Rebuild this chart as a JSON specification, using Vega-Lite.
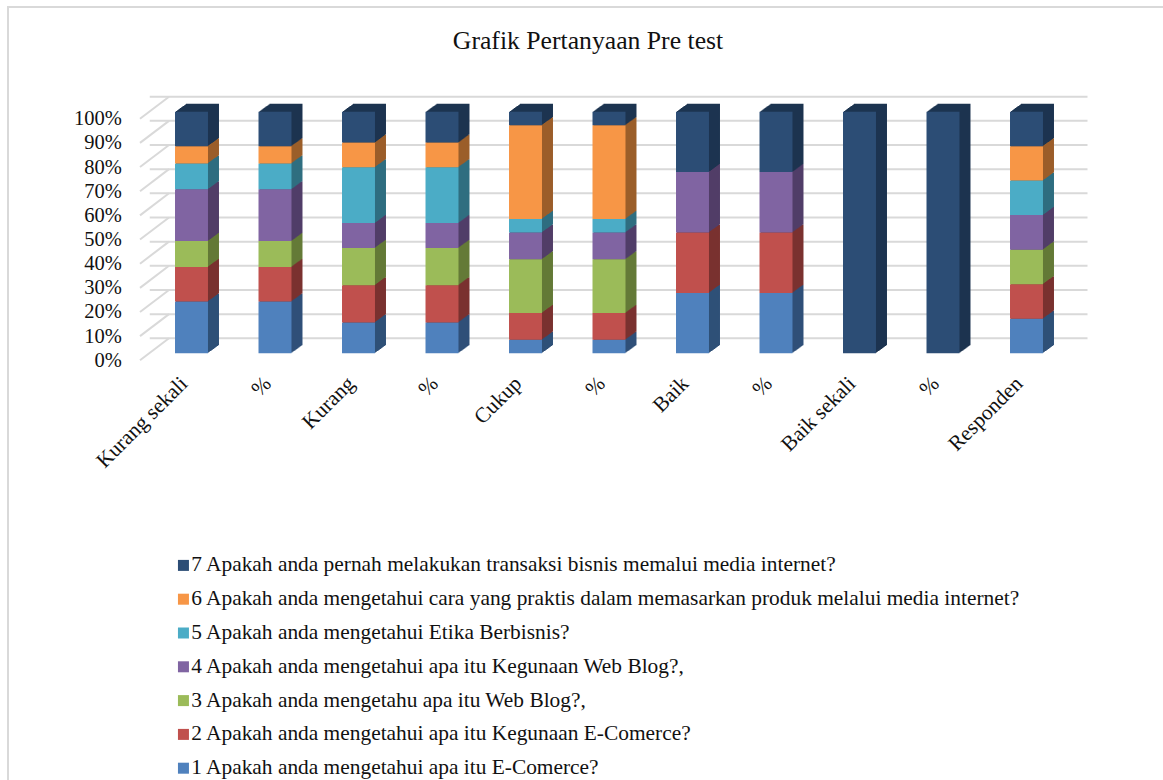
{"$schema":"https://vega.github.io/schema/vega-lite/v6.json","autosize":{"type":"none"},"width":918.5,"height":241.6,"padding":{"left":149.75,"top":111.7,"right":94.75,"bottom":426.7},"background":"white","title":{"text":"Grafik Pertanyaan Pre test","font":"Liberation Serif","fontSize":25.7,"fontWeight":"normal","color":"#111111","anchor":"middle","frame":"group","dx":-21,"offset":-52},"config":{"view":{"stroke":null},"axis":{"labelFont":"Liberation Serif","labelColor":"#111111"}},"datasets":{"ticks":[{"p":0},{"p":0.1},{"p":0.2},{"p":0.3},{"p":0.4},{"p":0.5},{"p":0.6},{"p":0.7},{"p":0.8},{"p":0.9},{"p":1}],"one":[{"p":1}],"rows":[
{"c":"Kurang sekali","s":"1","v":21.4},{"c":"Kurang sekali","s":"2","v":14.3},{"c":"Kurang sekali","s":"3","v":10.7},{"c":"Kurang sekali","s":"4","v":21.4},{"c":"Kurang sekali","s":"5","v":10.7},{"c":"Kurang sekali","s":"6","v":7.1},{"c":"Kurang sekali","s":"7","v":14.3},
{"c":"% Kurang sekali","s":"1","v":21.4},{"c":"% Kurang sekali","s":"2","v":14.3},{"c":"% Kurang sekali","s":"3","v":10.7},{"c":"% Kurang sekali","s":"4","v":21.4},{"c":"% Kurang sekali","s":"5","v":10.7},{"c":"% Kurang sekali","s":"6","v":7.1},{"c":"% Kurang sekali","s":"7","v":14.3},
{"c":"Kurang","s":"1","v":12.8},{"c":"Kurang","s":"2","v":15.4},{"c":"Kurang","s":"3","v":15.4},{"c":"Kurang","s":"4","v":10.3},{"c":"Kurang","s":"5","v":23.1},{"c":"Kurang","s":"6","v":10.2},{"c":"Kurang","s":"7","v":12.8},
{"c":"% Kurang","s":"1","v":12.8},{"c":"% Kurang","s":"2","v":15.4},{"c":"% Kurang","s":"3","v":15.4},{"c":"% Kurang","s":"4","v":10.3},{"c":"% Kurang","s":"5","v":23.1},{"c":"% Kurang","s":"6","v":10.2},{"c":"% Kurang","s":"7","v":12.8},
{"c":"Cukup","s":"1","v":5.6},{"c":"Cukup","s":"2","v":11.1},{"c":"Cukup","s":"3","v":22.2},{"c":"Cukup","s":"4","v":11.1},{"c":"Cukup","s":"5","v":5.6},{"c":"Cukup","s":"6","v":38.8},{"c":"Cukup","s":"7","v":5.6},
{"c":"% Cukup","s":"1","v":5.6},{"c":"% Cukup","s":"2","v":11.1},{"c":"% Cukup","s":"3","v":22.2},{"c":"% Cukup","s":"4","v":11.1},{"c":"% Cukup","s":"5","v":5.6},{"c":"% Cukup","s":"6","v":38.8},{"c":"% Cukup","s":"7","v":5.6},
{"c":"Baik","s":"1","v":25},{"c":"Baik","s":"2","v":25},{"c":"Baik","s":"3","v":0},{"c":"Baik","s":"4","v":25},{"c":"Baik","s":"5","v":0},{"c":"Baik","s":"6","v":0},{"c":"Baik","s":"7","v":25},
{"c":"% Baik","s":"1","v":25},{"c":"% Baik","s":"2","v":25},{"c":"% Baik","s":"3","v":0},{"c":"% Baik","s":"4","v":25},{"c":"% Baik","s":"5","v":0},{"c":"% Baik","s":"6","v":0},{"c":"% Baik","s":"7","v":25},
{"c":"Baik sekali","s":"1","v":0},{"c":"Baik sekali","s":"2","v":0},{"c":"Baik sekali","s":"3","v":0},{"c":"Baik sekali","s":"4","v":0},{"c":"Baik sekali","s":"5","v":0},{"c":"Baik sekali","s":"6","v":0},{"c":"Baik sekali","s":"7","v":100},
{"c":"% Baik sekali","s":"1","v":0},{"c":"% Baik sekali","s":"2","v":0},{"c":"% Baik sekali","s":"3","v":0},{"c":"% Baik sekali","s":"4","v":0},{"c":"% Baik sekali","s":"5","v":0},{"c":"% Baik sekali","s":"6","v":0},{"c":"% Baik sekali","s":"7","v":100},
{"c":"Responden","s":"1","v":14.3},{"c":"Responden","s":"2","v":14.3},{"c":"Responden","s":"3","v":14.3},{"c":"Responden","s":"4","v":14.3},{"c":"Responden","s":"5","v":14.3},{"c":"Responden","s":"6","v":14.2},{"c":"Responden","s":"7","v":14.3}
],"labels":[{"s":"1","n":"1 Apakah anda mengetahui apa itu E-Comerce?"},{"s":"2","n":"2 Apakah anda mengetahui apa itu Kegunaan E-Comerce?"},{"s":"3","n":"3 Apakah anda mengetahu apa itu Web Blog?,"},{"s":"4","n":"4 Apakah anda mengetahui apa itu Kegunaan Web Blog?,"},{"s":"5","n":"5 Apakah anda mengetahui Etika Berbisnis?"},{"s":"6","n":"6 Apakah anda mengetahui cara yang praktis dalam memasarkan produk melalui media internet?"},{"s":"7","n":"7 Apakah anda pernah melakukan transaksi bisnis memalui media internet?"}]},
"data":{"name":"rows"},
"transform":[{"lookup":"s","from":{"data":{"name":"labels"},"key":"s","fields":["n"]}}],
"encoding":{"x":{"field":"c","type":"nominal","sort":null,"scale":{"domain":["Kurang sekali","% Kurang sekali","Kurang","% Kurang","Cukup","% Cukup","Baik","% Baik","Baik sekali","% Baik sekali","Responden"],"paddingInner":0.605,"paddingOuter":0.3025},"axis":{"title":null,"ticks":false,"domain":false,"grid":false,"labelAngle":-45,"labelAlign":"right","labelBaseline":"middle","labelFontSize":21.3,"labelPadding":27,"labelOffset":-7,"labelLimit":300,"labelExpr":"slice(datum.label,0,1)=='%' ? '%' : datum.label"}},
"y":{"field":"v","type":"quantitative","stack":"normalize","scale":{"domain":[0,1],"nice":false},"axis":{"title":null,"ticks":false,"domain":false,"grid":false,"values":[0,0.1,0.2,0.3,0.4,0.5,0.6,0.7,0.8,0.9,1],"format":".0%","labelFontSize":20.5,"labelPadding":28.5,"labelOffset":7}},
"order":{"field":"s","sort":"ascending"}},
"layer":[
{"data":{"name":"one"},"transform":[],"mark":{"type":"point","shape":"M-183.5,680L-183.5,-104.7L980,-104.7","size":4,"filled":false,"stroke":"#d9d9d9","strokeWidth":2,"opacity":1,"clip":false},"encoding":{"x":{"datum":"Kurang sekali"},"y":{"field":"p","type":"quantitative","stack":null},"order":null}},
{"data":{"name":"ticks"},"transform":[],"mark":{"type":"rule","stroke":"#d9d9d9","strokeWidth":2,"xOffset":19.25,"x2Offset":19.25,"yOffset":-15},"encoding":{"x":null,"y":{"field":"p","type":"quantitative","stack":null},"order":null}},
{"data":{"name":"ticks"},"transform":[],"mark":{"type":"point","shape":"M-1,0.76L1,-0.76","size":841,"filled":false,"stroke":"#d9d9d9","strokeWidth":2,"opacity":1,"xOffset":-37,"yOffset":-4},"encoding":{"x":{"datum":"Kurang sekali"},"y":{"field":"p","type":"quantitative","stack":null},"order":null}},
{"encoding":{"color":{"field":"n","type":"nominal","legend":null,"scale":{"domain":["7 Apakah anda pernah melakukan transaksi bisnis memalui media internet?","6 Apakah anda mengetahui cara yang praktis dalam memasarkan produk melalui media internet?","5 Apakah anda mengetahui Etika Berbisnis?","4 Apakah anda mengetahui apa itu Kegunaan Web Blog?,","3 Apakah anda mengetahu apa itu Web Blog?,","2 Apakah anda mengetahui apa itu Kegunaan E-Comerce?","1 Apakah anda mengetahui apa itu E-Comerce?"],"range":["#1d3450","#9b5e2a","#2f6e80","#513e68","#647a37","#7a3230","#2f5078"]}}},
"layer":[
{"mark":{"type":"bar","xOffset":11,"yOffset":-8}},
{"mark":{"type":"bar","xOffset":10,"yOffset":-7.27}},
{"mark":{"type":"bar","xOffset":9,"yOffset":-6.55}},
{"mark":{"type":"bar","xOffset":8,"yOffset":-5.82}},
{"mark":{"type":"bar","xOffset":7,"yOffset":-5.09}},
{"mark":{"type":"bar","xOffset":6,"yOffset":-4.36}},
{"mark":{"type":"bar","xOffset":5,"yOffset":-3.64}},
{"mark":{"type":"bar","xOffset":4,"yOffset":-2.91}},
{"mark":{"type":"bar","xOffset":3,"yOffset":-2.18}},
{"mark":{"type":"bar","xOffset":2,"yOffset":-1.45}},
{"mark":{"type":"bar","xOffset":1,"yOffset":-0.73}}
]},
{"mark":{"type":"bar"},"encoding":{"color":{"field":"n","type":"nominal","scale":{"domain":["7 Apakah anda pernah melakukan transaksi bisnis memalui media internet?","6 Apakah anda mengetahui cara yang praktis dalam memasarkan produk melalui media internet?","5 Apakah anda mengetahui Etika Berbisnis?","4 Apakah anda mengetahui apa itu Kegunaan Web Blog?,","3 Apakah anda mengetahu apa itu Web Blog?,","2 Apakah anda mengetahui apa itu Kegunaan E-Comerce?","1 Apakah anda mengetahui apa itu E-Comerce?"],"range":["#2c4d75","#f79646","#4bacc6","#8064a2","#9bbb59","#c0504d","#4f81bd"]},"legend":{"title":null,"orient":"none","legendX":23,"legendY":443,"symbolType":"square","symbolSize":121,"symbolStrokeWidth":0,"symbolOpacity":1,"labelFont":"Liberation Serif","labelFontSize":21.4,"labelColor":"#111111","labelLimit":1000,"labelOffset":-3,"rowPadding":10.8,"columns":1,"padding":0}}}}
],
"resolve":{"scale":{"color":"independent"}}}
